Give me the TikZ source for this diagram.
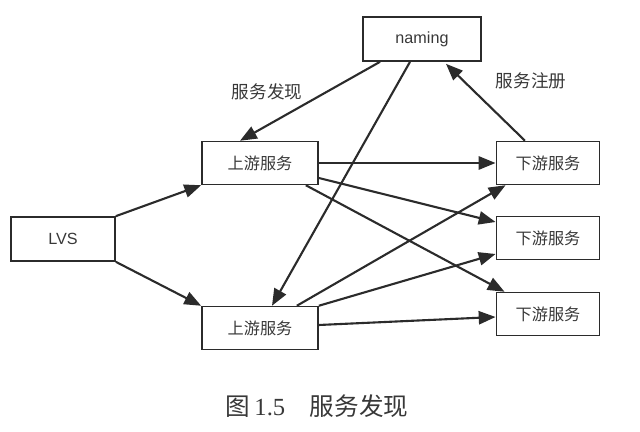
\documentclass[tikz,border=0pt]{standalone}
\usepackage{fontspec}
\setmainfont{Liberation Sans}
\newfontfamily\cjk{Noto Sans CJK SC}
\newfontfamily\capserif{Liberation Serif}
\usetikzlibrary{arrows.meta}
\definecolor{ink}{HTML}{2B2B2B}
\definecolor{txt}{HTML}{383838}

\begin{document}
\begin{tikzpicture}[x=0.025cm, y=-0.025cm, font=\fontsize{11.5}{13}\selectfont, color=ink,
	box/.style={draw=ink, line width=1.2pt, inner sep=0pt, text=txt, minimum height=1.07cm},
	link/.style={line width=1.5pt, -{Triangle[length=4.2mm, width=3.3mm]}}]
	\useasboundingbox (0,0) rectangle (640,432);
	\node[box, minimum width=2.95cm, minimum height=1.1cm] (naming) at (422,39) {naming};
	\node[box, minimum width=2.6cm, minimum height=1.1cm] (lvs) at (63,239) {LVS};
	\node[box, minimum width=2.9cm] (upA) at (260,163) {\cjk 上游服务};
	\node[box, minimum width=2.9cm] (upB) at (260,328) {\cjk 上游服务};
	\node[box, minimum width=2.58cm] (downA) at (548,163) {\cjk 下游服务};
	\node[box, minimum width=2.58cm] (downB) at (548,238) {\cjk 下游服务};
	\node[box, minimum width=2.58cm] (downC) at (548,314) {\cjk 下游服务};
	\node[text=txt, font=\cjk\fontsize{12.5}{14}\selectfont] (find) at (267,92) {服务发现};
	\node[text=txt, font=\cjk\fontsize{12.5}{14}\selectfont] (reg) at (531,81) {服务注册};
	\node[text=txt] (caption) at (317,406) {\cjk\fontsize{17.5}{20}\selectfont 图\,{\capserif 1.5}\quad 服务发现};
	% LVS to the two upstream boxes
	\draw[link] (lvs.north east) -- (upA.south west);
	\draw[link] (lvs.south east) -- (upB.north west);
	% naming
	\draw[link] ([xshift=-1.05cm]naming.south) -- ([xshift=-0.5cm]upA.north);
	\draw[link] ([xshift=-0.3cm]naming.south) -- ([xshift=0.3cm]upB.north);
	\draw[link] ([xshift=-0.575cm]downA.north) -- ([xshift=0.6cm, yshift=-0.05cm]naming.south);
	% upstream to downstream
	\draw[link] (upA.east) -- (downA.west);
	\draw[link] ([yshift=-0.375cm]upA.east) -- ([yshift=0.4cm]downB.west);
	\draw[link] ([xshift=-0.325cm]upA.south east) -- ([xshift=0.225cm]downC.north west);
	\draw[link] ([xshift=-0.55cm]upB.north east) -- ([xshift=0.25cm]downA.south west);
	\draw[link] (upB.north east) -- ([yshift=-0.4cm]downB.west);
	\draw[link] ([yshift=0.075cm]upB.east) -- ([yshift=-0.075cm]downC.west);
\end{tikzpicture}
\end{document}
